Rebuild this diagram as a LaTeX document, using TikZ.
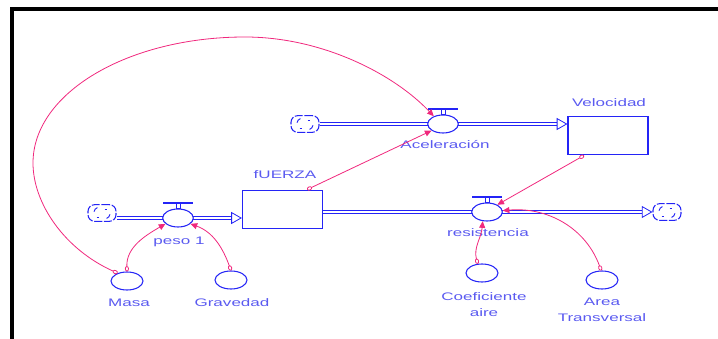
\documentclass[tikz,border=0pt]{standalone}
\usepackage{fontspec}
\newfontfamily\diagfont[FakeStretch=1.56]{Liberation Sans}
\usetikzlibrary{arrows.meta,shapes.geometric}
\definecolor{flowblue}{HTML}{2424F6}
\definecolor{textblue}{HTML}{5A5AF0}
\definecolor{linkpink}{HTML}{F0287D}

\tikzset{
  stock/.style={draw=flowblue, line width=0.9pt, minimum width=60pt, minimum height=29pt, inner sep=0pt},
  valve/.style={ellipse, draw=flowblue, line width=0.8pt, fill=white, minimum width=23pt, minimum height=13.5pt, inner sep=0pt},
  aux/.style={ellipse, draw=flowblue, line width=0.8pt, minimum width=24pt, minimum height=13.5pt, inner sep=0pt},
  cloudsrc/.style={draw=flowblue, line width=0.8pt, rounded corners=5pt, dash pattern=on 6pt off 1.2pt, minimum width=21pt, minimum height=12.5pt, inner sep=0pt},
  pipe/.style={draw=flowblue, line width=0.6pt, double=white, double distance=1.4pt},
  pipehead/.style={arrows={-Triangle[open,length=8pt,width=9pt,fill=white]}},
  link/.style={draw=linkpink, line width=0.6pt, arrows={Circle[open,length=4pt,width=3pt]-Triangle[length=5pt,width=4.5pt]}},
  lbl/.style={text=textblue, font=\diagfont\fontsize{8.2}{12}\selectfont, inner sep=0pt, align=center},
}

\begin{document}
\begin{tikzpicture}[x=0.75pt,y=0.75pt]
\useasboundingbox (0,0) rectangle (718,339);
% window frame
\draw[line width=3pt] (12,0) -- (12,329.5) -- (718,329.5);

% stocks, valves and clouds
\node[stock] (fuerza) at (282.5,129.5) {};
\node[stock] (velocidad) at (608,203.5) {};
\node[cloudsrc] (srcA) at (102,126) {};
\node[cloudsrc] (srcB) at (305,215) {};
\node[cloudsrc] (sink) at (667,127) {};

% flow pipes
\draw[pipe] (srcA.east |- 0,121) -- (178,121);
\draw[pipe] (srcB.east) -- (443,215);
\draw[pipe,pipehead] (443,215) -- (velocidad.west |- 0,215);
\draw[pipe,pipehead] (178,121) -- (fuerza.west |- 0,121);
\draw[pipe] (fuerza.east |- 0,127) -- (487,127);
\draw[pipe,pipehead] (487,127) -- (sink.west);

\node[valve] (peso) at (178,121) {};
\node[valve] (acel) at (443,215) {};
\node[valve] (resist) at (487,127) {};
\foreach \v in {peso,acel,resist} {
  \draw[flowblue, line width=0.7pt] ([xshift=-1.5pt]\v.north) rectangle ([xshift=1.5pt,yshift=3.4pt]\v.north);
  \draw[flowblue, line width=1.6pt] ([xshift=-11pt,yshift=4.2pt]\v.north) -- ([xshift=11pt,yshift=4.2pt]\v.north);
}
\foreach \c in {srcA,srcB,sink} {
  \draw[flowblue, line width=0.7pt] ([shift={(-6pt,1pt)}]\c.center) arc[start angle=170, end angle=110, radius=4pt];
  \draw[flowblue, line width=0.7pt] ([shift={(6pt,-1pt)}]\c.center) arc[start angle=-10, end angle=-70, radius=4pt];
  \draw[flowblue, line width=0.7pt] ([shift={(2pt,3pt)}]\c.center) -- ++(2pt,0);
  \draw[flowblue, line width=0.7pt] ([shift={(-4pt,-3pt)}]\c.center) -- ++(2pt,0);
}

% converters
\node[aux] (masa) at (127,58) {};
\node[aux] (gravedad) at (231,59) {};
\node[aux] (coef) at (482,66) {};
\node[aux] (area) at (602,59) {};

% labels
\node[lbl] (velocidadLbl) at (609,236) {Velocidad};
\node[lbl] (fuerzaLbl) at (285,164) {fUERZA};
\node[lbl] (acelLbl) at (445,194) {Aceleración};
\node[lbl] (pesoLbl) at (179,97) {peso 1};
\node[lbl] (resistLbl) at (488,106) {resistencia};
\node[lbl] (masaLbl) at (129,36) {Masa};
\node[lbl] (gravedadLbl) at (232,36) {Gravedad};
\node[lbl] (coefLbl) at (484,34.5) {Coeficiente\\aire};
\node[lbl] (areaLbl) at (602,29.5) {Area\\Transversal};

% information links
\draw[link] (masa.140) .. controls (64,90) and (33,136) .. (33,176)
  .. controls (33,246) and (128,302) .. (245,302)
  .. controls (322,302) and (394,265) .. (acel.140);
\draw[link] (masa.north) to[out=92,in=210] (peso.205);
\draw[link] (gravedad.north) to[out=110,in=-20] (peso.-25);
\draw[link] ([xshift=-12pt]fuerza.north east) -- (acel.210);
\draw[link] ([xshift=-18pt]velocidad.south) -- (resist.35);
\draw[link] (coef.115) to[out=105,in=-95] (resist.245);
\draw[link] (area.95) to[out=110,in=5] (resist.5);
\end{tikzpicture}
\end{document}
